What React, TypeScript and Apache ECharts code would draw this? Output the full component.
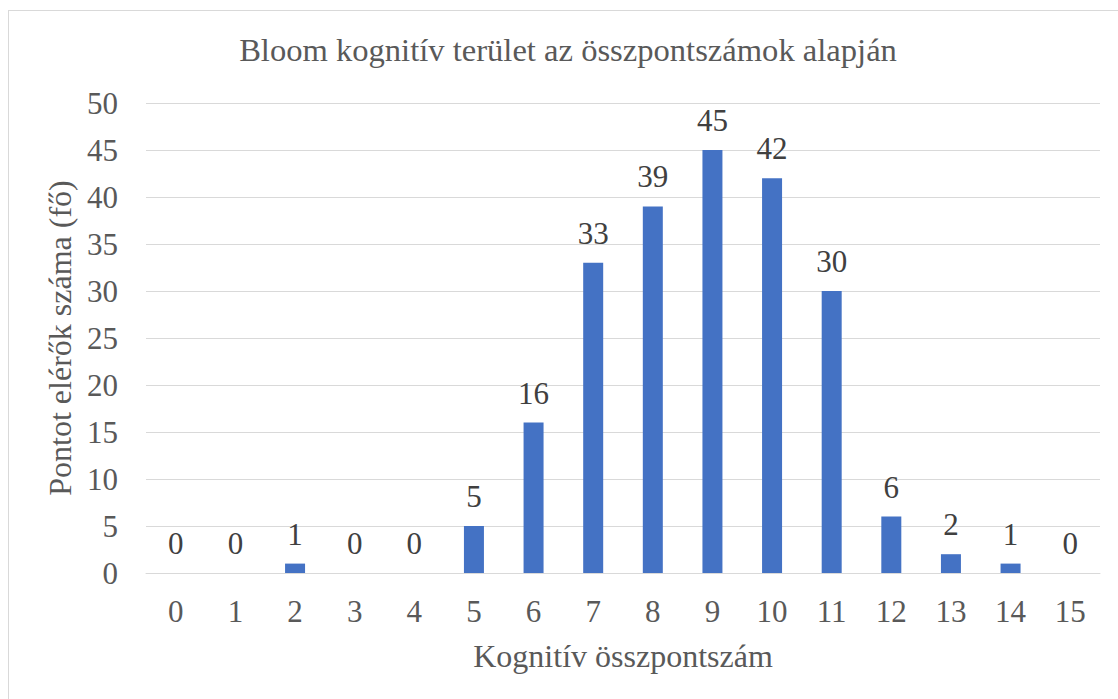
import React, { useEffect, useRef } from "react";
import * as echarts from "echarts";

const categories = ["0", "1", "2", "3", "4", "5", "6", "7", "8", "9", "10", "11", "12", "13", "14", "15"];
const values = [0, 0, 1, 0, 0, 5, 16, 33, 39, 45, 42, 30, 6, 2, 1, 0];
const titleText = "Bloom kognitív terület az összpontszámok alapján";
const xName = "Kognitív összpontszám";
const yName = "Pontot elérők száma (fő)";

const FONT = "Liberation Serif";
const TEXT = "#595959";

export default function App() {
  const ref = useRef<HTMLDivElement>(null);
  useEffect(() => {
    if (!ref.current) return;
    const chart = echarts.init(ref.current, null, { renderer: "svg" });
    chart.setOption({
      animation: false,
      textStyle: { fontFamily: FONT },
      graphic: [
        {
          type: "text",
          x: 559,
          y: 39,
          style: {
            text: titleText,
            fill: TEXT,
            fontSize: 32.6,
            fontFamily: FONT,
            textAlign: "center",
            textVerticalAlign: "middle",
          },
        },
      ],
      grid: { left: 137, right: 18, top: 92, bottom: 126, containLabel: false },
      xAxis: {
        type: "category",
        data: categories,
        name: xName,
        nameLocation: "middle",
        nameGap: 67,
        nameTextStyle: { color: TEXT, fontSize: 32, fontFamily: FONT },
        axisLine: { show: true, lineStyle: { color: "#d9d9d9", width: 1 } },
        axisTick: { show: false },
        axisLabel: { color: TEXT, fontSize: 31, fontFamily: FONT, margin: 23 },
      },
      yAxis: {
        type: "value",
        min: 0,
        max: 50,
        interval: 5,
        name: yName,
        nameLocation: "middle",
        nameGap: 60,
        nameRotate: 90,
        nameTextStyle: { color: TEXT, fontSize: 32, fontFamily: FONT },
        axisLine: { show: false },
        axisTick: { show: false },
        splitLine: { lineStyle: { color: "#d9d9d9", width: 1 } },
        axisLabel: { color: TEXT, fontSize: 31, fontFamily: FONT, margin: 28 },
      },
      series: [
        {
          type: "bar",
          data: values,
          barWidth: 20,
          itemStyle: { color: "#4472C4" },
          label: {
            show: true,
            position: "top",
            distance: 14,
            color: "#404040",
            fontSize: 31,
            fontFamily: FONT,
          },
        },
      ],
    });
    return () => chart.dispose();
  }, []);

  return (
    <div
      style={{
        position: "absolute",
        left: 8,
        top: 10,
        width: 1110,
        height: 689,
        boxSizing: "border-box",
        borderLeft: "1px solid #d9d9d9",
        borderTop: "1px solid #d9d9d9",
        background: "#fff",
      }}
    >
      <div ref={ref} style={{ width: 1109, height: 688 }} />
    </div>
  );
}
